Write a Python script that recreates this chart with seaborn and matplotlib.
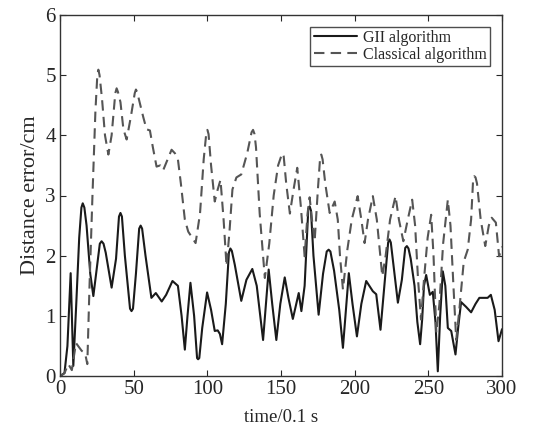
import pandas as pd
import matplotlib
matplotlib.use('Agg')
import matplotlib.pyplot as plt
import seaborn as sns

# GII algorithm (solid line)
gii_t = [0, 3, 5, 7.2, 9, 11, 13, 14.5, 15.4, 16.5, 18, 20.5, 22.6, 25, 27, 28.2, 29.5,
         31, 35, 38, 40, 41, 42, 44, 47.5, 48.5, 49.5, 51.5, 53.7, 54.7, 55.7, 58, 62,
         65, 69, 72, 76.3, 80, 82.5, 84.7, 86.5, 88.5, 91, 93, 93.7, 94.5, 96.5, 99.8,
         102.5, 105, 107, 108.5, 110, 112.5, 114.6, 115.6, 116.6, 118.6, 123, 126.5,
         130.5, 133.5, 137.8, 141.6, 144, 146.8, 149.5, 152.5, 155, 158, 162, 163.8,
         166, 168.5, 169.4, 170.3, 172, 175.5, 178.5, 181, 182.3, 183.5, 186, 189.5,
         192, 196, 198.5, 201.5, 204.5, 207.8, 212.3, 214.6, 217.5, 220.5, 222.7,
         223.6, 224.5, 226.5, 229.3, 232, 234.3, 235.4, 236.5, 238, 240.6, 242.5,
         244.4, 245.8, 247, 248.5, 251, 253, 254.8, 256.4, 258, 259.8, 261.5, 263.2,
         265.5, 268.4, 270.2, 272.2, 275.6, 279, 282, 284.6, 290.2, 292.4, 295, 297.6,
         300]
gii_err = [0, 0.05, 0.5, 1.71, 0.17, 1.2, 2.3, 2.8, 2.87, 2.8, 2.5, 1.7, 1.33, 1.8,
           2.2, 2.24, 2.2, 2.05, 1.47, 1.95, 2.65, 2.71, 2.65, 2.0, 1.12, 1.08, 1.12,
           1.7, 2.45, 2.5, 2.45, 2.0, 1.3, 1.38, 1.24, 1.35, 1.58, 1.5, 1.0, 0.44, 1.0,
           1.55, 1.0, 0.3, 0.28, 0.3, 0.8, 1.39, 1.1, 0.75, 0.76, 0.7, 0.53, 1.2, 2.05,
           2.12, 2.08, 1.85, 1.25, 1.6, 1.78, 1.5, 0.6, 1.77, 1.2, 0.6, 1.2, 1.64, 1.3,
           0.95, 1.38, 1.08, 1.5, 2.78, 2.82, 2.75, 2.0, 1.02, 1.7, 2.07, 2.1, 2.07,
           1.75, 1.1, 0.47, 1.71, 1.2, 0.66, 1.2, 1.58, 1.41, 1.36, 0.77, 1.6, 2.22,
           2.27, 2.22, 1.8, 1.22, 1.6, 2.13, 2.16, 2.12, 1.95, 1.5, 0.9, 0.53, 0.95,
           1.5, 1.68, 1.35, 1.4, 0.9, 0.08, 1.0, 1.74, 1.5, 0.8, 0.75, 0.36, 0.8, 1.23,
           1.15, 1.06, 1.2, 1.3, 1.3, 1.35, 1.1, 0.58, 0.78]

# Classical algorithm (dashed line)
cls_t = [0, 3, 5.6, 8, 10.8, 14.7, 17, 18.5, 20, 22, 24, 25.3, 26, 26.8, 28.5, 30.5,
         32.8, 35, 37.5, 38.4, 39.3, 41, 43, 45.2, 48, 50.7, 51.5, 52.3, 54, 56.5,
         58.7, 61, 63, 65.5, 68, 70, 73, 75.7, 78, 80, 82, 84.7, 87, 92, 95, 97.5,
         99.2, 100, 100.8, 102.5, 105, 107, 108.9, 111, 113, 115, 117, 119.7, 123, 127,
         130, 131, 132, 133, 135.5, 139, 142, 145, 148, 150.2, 151, 151.8, 153.5, 156,
         158.5, 161, 163.5, 166, 168, 169.4, 171, 172.8, 175, 176.5, 177.3, 178.2, 180,
         183, 186.4, 188.5, 190, 192, 195, 198, 202, 204.5, 206.7, 209, 212.3, 215,
         218.7, 221, 224, 227.7, 230, 233, 236, 239, 241, 243, 245, 247, 249.5, 251.9,
         253.5, 255.4, 257.5, 260, 263.2, 265, 267, 268.9, 271, 274, 276.7, 279, 280.4,
         281.2, 282, 283, 285.5, 288.6, 291, 293, 295.8, 298, 300]
cls_err = [0, 0.05, 0.2, 0.1, 0.55, 0.42, 0.38, 0.2, 1.5, 3.0, 4.4, 5.0, 5.09, 5.0,
           4.6, 4.0, 3.68, 4.0, 4.7, 4.78, 4.72, 4.55, 4.1, 3.93, 4.3, 4.7, 4.76, 4.72,
           4.55, 4.3, 4.1, 4.08, 3.8, 3.48, 3.5, 3.42, 3.6, 3.76, 3.7, 3.6, 3.2, 2.6,
           2.4, 2.21, 2.7, 3.6, 4.02, 4.09, 4.02, 3.5, 2.9, 3.1, 3.26, 2.6, 1.83, 2.4,
           3.1, 3.3, 3.35, 3.7, 4.05, 4.09, 4.02, 3.8, 2.7, 1.63, 2.2, 3.0, 3.5, 3.66,
           3.7, 3.65, 3.2, 2.7, 3.1, 3.46, 2.8, 1.99, 2.7, 2.97, 2.6, 2.24, 3.1, 3.62,
           3.68, 3.6, 3.2, 2.71, 2.9, 2.6, 2.0, 1.44, 2.1, 2.6, 2.99, 2.6, 2.21, 2.6,
           2.99, 2.6, 1.66, 2.0, 2.6, 2.99, 2.6, 2.24, 2.6, 2.93, 2.5, 1.6, 0.94, 1.6,
           2.3, 2.68, 2.0, 0.72, 1.2, 2.2, 2.93, 2.5, 1.5, 0.6, 1.1, 1.9, 2.1, 2.6,
           3.28, 3.32, 3.3, 3.2, 2.6, 2.16, 2.5, 2.63, 2.55, 1.99, 2.15]

sns.set_style('ticks')
plt.rcParams['font.family'] = ['Liberation Serif', 'DejaVu Serif']
plt.rcParams['xtick.direction'] = 'in'
plt.rcParams['ytick.direction'] = 'in'

fig = plt.figure(figsize=(5.41, 4.25), dpi=100)
ax = fig.add_axes([0.111, 0.115, 0.817, 0.85])

gii_df = pd.DataFrame({'t': gii_t, 'err': gii_err})
cls_df = pd.DataFrame({'t': cls_t, 'err': cls_err})

sns.lineplot(data=gii_df, x='t', y='err', ax=ax, color='#1a1a1a', lw=1.5,
             label='GII algorithm', sort=False)
sns.lineplot(data=cls_df, x='t', y='err', ax=ax, color='#555555', lw=1.5,
             linestyle=(0, (5, 3)), label='Classical algorithm', sort=False)

ax.set_xlim(0, 300)
ax.set_ylim(0, 6)
ax.set_xticks([0, 50, 100, 150, 200, 250, 300])
ax.set_yticks([0, 1, 2, 3, 4, 5, 6])
ax.tick_params(labelsize=15, top=True, right=True, length=4, width=0.8, pad=3)
ax.set_xlabel('time/0.1 s', fontsize=13.5, labelpad=7)
ax.set_ylabel('Distance error/cm', fontsize=16, labelpad=4)
for s in ax.spines.values():
    s.set_color('#333333')
    s.set_linewidth(1.0)

leg = ax.legend(loc='upper right', fontsize=11.5, frameon=True, fancybox=False,
                handlelength=2.7, handletextpad=0.4, borderpad=0.2,
                labelspacing=0.05, borderaxespad=0, bbox_to_anchor=(0.973, 0.967))
leg.get_frame().set_edgecolor('#222222')
leg.get_frame().set_linewidth(1.0)

fig.savefig('out.png', dpi=100)
